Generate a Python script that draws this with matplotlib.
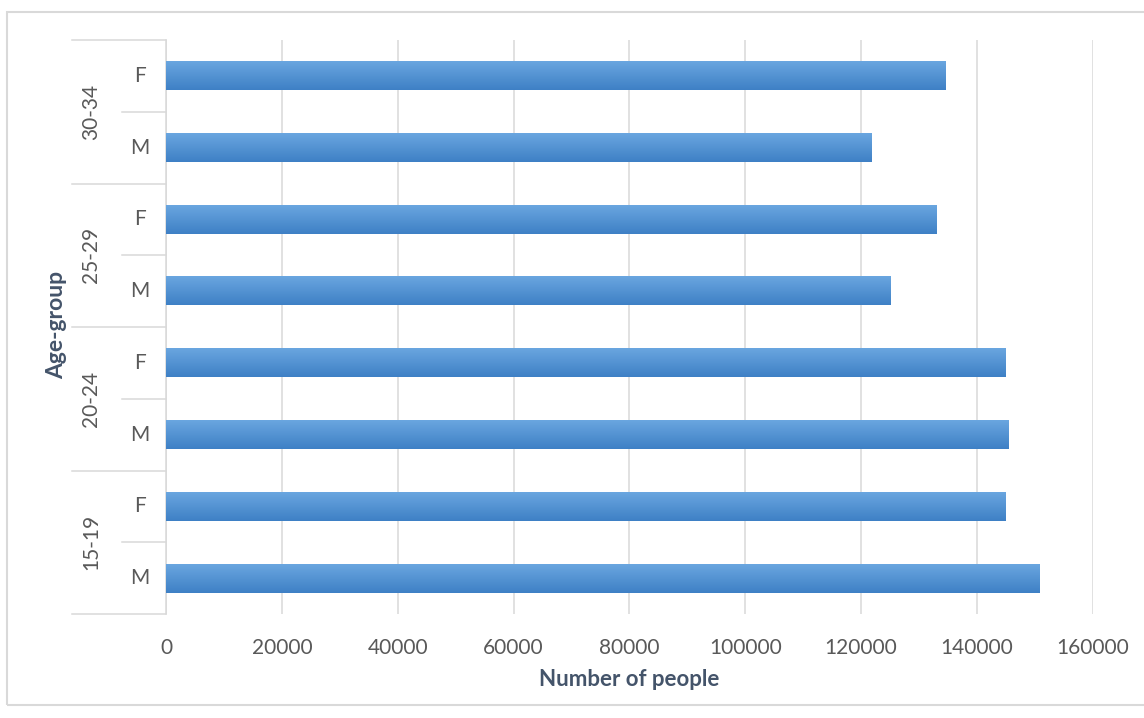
import matplotlib
matplotlib.use("Agg")
import matplotlib.pyplot as plt
import numpy as np
from matplotlib.colors import LinearSegmentedColormap
from matplotlib.patches import Rectangle

# Population by age group and sex
age_groups = ["15-19", "20-24", "25-29", "30-34"]
sexes = ["M", "F"]
values = {
    "15-19": [150800, 144900],
    "20-24": [145500, 145000],
    "25-29": [125000, 133000],
    "30-34": [121800, 134500],
}
x_ticks = [0, 20000, 40000, 60000, 80000, 100000, 120000, 140000, 160000]
x_label = "Number of people"
y_label = "Age-group"

plt.rcParams["font.family"] = ["Lato", "DejaVu Sans"]
TEXT = "#595959"
TITLE = "#44546A"
LINE = "#D9D9D9"

fig = plt.figure(figsize=(11.44, 7.18), dpi=100)
ax = fig.add_axes([0.1451, 0.1448, 0.8101, 0.7995])

# flatten into rows, bottom to top
row_vals, row_sex = [], []
for g in age_groups:
    for s, v in zip(sexes, values[g]):
        row_vals.append(v)
        row_sex.append(s)
ypos = np.arange(len(row_vals))

bars = ax.barh(ypos, row_vals, height=0.4, color="#5B9BD5", zorder=2)

# vertical gradient fill for each bar
cmap = LinearSegmentedColormap.from_list("barfill", ["#3E80C5", "#6AA6E0"])
grad = np.linspace(0, 1, 256).reshape(-1, 1)
for b in bars:
    x0, y0, w, h = b.get_x(), b.get_y(), b.get_width(), b.get_height()
    ax.imshow(grad, extent=(x0, x0 + w, y0, y0 + h), origin="lower",
              cmap=cmap, aspect="auto", zorder=3, interpolation="bilinear")
    b.set_visible(False)

ax.set_xlim(0, 160000)
ax.set_ylim(-0.5, len(row_vals) - 0.5)
ax.set_xticks(x_ticks)
ax.set_xticklabels([str(t) for t in x_ticks])
ax.tick_params(axis="x", length=0, pad=17, labelsize=15, labelcolor=TEXT)
ax.set_yticks([])
ax.grid(axis="x", color=LINE, linewidth=1.1, zorder=0)
for side in ["top", "right", "bottom"]:
    ax.spines[side].set_visible(False)
ax.spines["left"].set_color(LINE)
ax.spines["left"].set_linewidth(1.1)

# multi-level category axis
ytrans = ax.get_yaxis_transform()
outer_x = -0.1014
inner_x = -0.0475
for k in range(len(age_groups) + 1):
    yb = 2 * k - 0.5
    ax.plot([outer_x, 0], [yb, yb], transform=ytrans, color=LINE,
            linewidth=1.1, clip_on=False, zorder=1)
for k in range(len(age_groups)):
    yb = 2 * k + 0.5
    ax.plot([inner_x, 0], [yb, yb], transform=ytrans, color=LINE,
            linewidth=1.1, clip_on=False, zorder=1)

for y, s in zip(ypos, row_sex):
    ax.text(-0.028, y, s, transform=ytrans, ha="center", va="center",
            fontsize=15, color=TEXT)
for k, g in enumerate(age_groups):
    ax.text(-0.081, 2 * k + 0.5, g, transform=ytrans, ha="center",
            va="center", rotation=90, fontsize=15, color=TEXT)

fig.text(57 / 1144, 1 - 325 / 718, y_label, rotation=90, ha="center",
         va="center", fontsize=16.5, fontweight="bold", color=TITLE)
fig.text(629 / 1144, 1 - 680 / 718, x_label, ha="center", va="center",
         fontsize=16, fontweight="bold", color=TITLE)

# chart frame
fig.patches.append(Rectangle((7 / 1144, 1 - 705 / 718), 1.2, (705 - 12) / 718,
                             transform=fig.transFigure, fill=False,
                             edgecolor=LINE, linewidth=1.5))

fig.savefig("out.png", dpi=100, facecolor="white")
